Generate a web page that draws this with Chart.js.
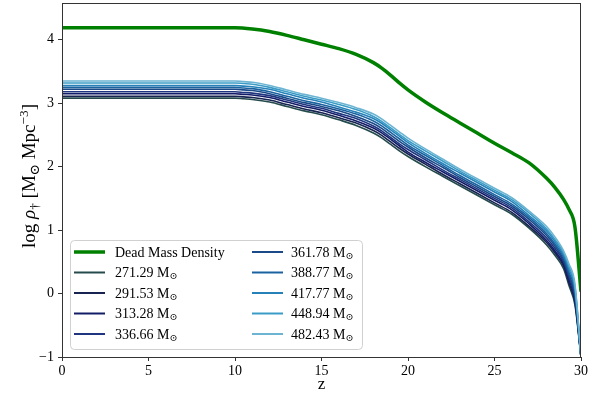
<!DOCTYPE html>
<html>
<head>
<meta charset="utf-8">
<script src="https://cdn.jsdelivr.net/npm/chart.js@4.4.1/dist/chart.umd.min.js"></script>
<style>
  html, body { margin: 0; background: #fff; }
</style>
</head>
<body>
<canvas id="c" width="606" height="398"></canvas>
<script>
/* ── Data ── */
const xTicks = [0, 5, 10, 15, 20, 25, 30];
const yTicks = [-1, 0, 1, 2, 3, 4];

// dead mass density (green)
const zDead   = [0, 10, 11, 12, 13, 14, 15, 16, 17, 18, 18.5, 19, 19.5, 20, 21, 22, 23, 24, 25, 26, 27, 28, 28.5, 29, 29.3, 29.65, 30];
const rhoDead = [4.19, 4.19, 4.17, 4.13, 4.07, 4.00, 3.93, 3.86, 3.77, 3.64, 3.55, 3.44, 3.32, 3.21, 3.02, 2.85, 2.69, 2.53, 2.37, 2.22, 2.06, 1.82, 1.67, 1.48, 1.33, 1.05, 0.03];

// blue family, one curve per halo mass
const zMass = [0, 10, 10.5, 11, 12, 13, 14, 15, 16, 17, 18, 18.5, 19, 19.5, 20, 21, 22, 23, 24, 25, 26, 27, 28, 28.5, 29, 29.3, 29.65, 30];
const rho_271 = [3.08, 3.08, 3.07, 3.06, 3.02, 2.95, 2.88, 2.82, 2.74, 2.65, 2.53, 2.45, 2.35, 2.25, 2.16, 2.00, 1.85, 1.70, 1.55, 1.40, 1.25, 1.03, 0.77, 0.60, 0.39, 0.13, -0.18, -1];
const rho_292 = [3.11, 3.11, 3.10, 3.09, 3.05, 2.98, 2.91, 2.85, 2.77, 2.69, 2.57, 2.49, 2.39, 2.29, 2.20, 2.04, 1.88, 1.73, 1.58, 1.43, 1.28, 1.06, 0.81, 0.64, 0.43, 0.17, -0.14, -1];
const rho_313 = [3.15, 3.15, 3.14, 3.13, 3.09, 3.02, 2.95, 2.89, 2.81, 2.72, 2.61, 2.53, 2.43, 2.33, 2.23, 2.07, 1.92, 1.77, 1.62, 1.47, 1.32, 1.10, 0.84, 0.67, 0.46, 0.22, -0.10, -1];
const rho_337 = [3.18, 3.18, 3.17, 3.16, 3.12, 3.05, 2.98, 2.92, 2.84, 2.76, 2.64, 2.56, 2.46, 2.36, 2.27, 2.11, 1.95, 1.80, 1.65, 1.50, 1.35, 1.13, 0.88, 0.71, 0.50, 0.26, -0.06, -1];
const rho_362 = [3.22, 3.22, 3.21, 3.20, 3.15, 3.08, 3.01, 2.95, 2.88, 2.79, 2.68, 2.60, 2.50, 2.40, 2.31, 2.14, 1.99, 1.83, 1.68, 1.53, 1.38, 1.17, 0.92, 0.75, 0.53, 0.30, -0.02, -1];
const rho_389 = [3.25, 3.25, 3.24, 3.23, 3.18, 3.11, 3.04, 2.98, 2.91, 2.83, 2.72, 2.64, 2.54, 2.44, 2.34, 2.18, 2.02, 1.86, 1.71, 1.56, 1.41, 1.20, 0.95, 0.78, 0.57, 0.34, 0.03, -1];
const rho_418 = [3.28, 3.28, 3.27, 3.26, 3.22, 3.15, 3.08, 3.02, 2.94, 2.86, 2.76, 2.68, 2.58, 2.48, 2.38, 2.21, 2.05, 1.90, 1.75, 1.60, 1.45, 1.23, 0.99, 0.82, 0.60, 0.39, 0.07, -1];
const rho_449 = [3.32, 3.32, 3.31, 3.30, 3.25, 3.18, 3.11, 3.05, 2.98, 2.90, 2.79, 2.71, 2.61, 2.51, 2.41, 2.25, 2.09, 1.93, 1.78, 1.63, 1.48, 1.27, 1.02, 0.85, 0.64, 0.43, 0.11, -1];
const rho_482 = [3.35, 3.35, 3.34, 3.33, 3.28, 3.21, 3.14, 3.08, 3.01, 2.93, 2.83, 2.75, 2.65, 2.55, 2.45, 2.28, 2.12, 1.96, 1.81, 1.66, 1.51, 1.30, 1.06, 0.89, 0.67, 0.47, 0.15, -1];

const massLabels = ['271.29', '291.53', '313.28', '336.66', '361.78', '388.77', '417.77', '448.94', '482.43'];
const massSeries = [rho_271, rho_292, rho_313, rho_337, rho_362, rho_389, rho_418, rho_449, rho_482];
const massColors = ['#254b4c', '#172452', '#131c67', '#1f3580', '#1a4a88', '#1b63a0', '#2581b8', '#3a9cc6', '#6cb4d2'];
const DEAD_COLOR = '#008000';

/* ── Shared styling ── */
const SERIF = "'Liberation Serif', 'DejaVu Serif', serif";
const TICK_FONT = { family: SERIF, size: 14 };

const toPts = (xs, ys) => xs.map((x, i) => ({ x, y: ys[i] }));
const minus = v => String(v).replace('-', '\u2212');

/* draw a run of text pieces with sub/superscripts, returns width */
function drawRich(ctx, parts, x, y, size, measureOnly) {
  let cx = x;
  parts.forEach(p => {
    const s = p.m === 'sub' || p.m === 'sup' ? size * 0.7 : size;
    const dy = p.m === 'sub' ? size * 0.22 : p.m === 'sup' ? -size * 0.38 : 0;
    ctx.font = (p.it ? 'italic ' : '') + s + 'px ' + SERIF;
    if (!measureOnly) ctx.fillText(p.t, cx, y + dy);
    cx += ctx.measureText(p.t).width;
  });
  return cx - x;
}

/* frame, legend and axis titles */
const decor = {
  id: 'decor',
  afterDatasetsDraw(chart) {
    const { ctx, chartArea: a } = chart;
    ctx.save();
    ctx.strokeStyle = '#333';
    ctx.lineWidth = 1;
    ctx.strokeRect(a.left + 0.5, a.top + 0.5, a.right - a.left - 1, a.bottom - a.top);

    // legend box
    const bx = 70, by = 240, bw = 292, bh = 109, r = 4;
    ctx.beginPath();
    ctx.roundRect(bx + 0.5, by + 0.5, bw, bh, r);
    ctx.fillStyle = 'rgba(255,255,255,0.8)';
    ctx.fill();
    ctx.strokeStyle = '#d0d0d0';
    ctx.stroke();

    const entries = [{ label: 'Dead Mass Density', color: DEAD_COLOR, w: 3.5, sun: false }]
      .concat(massLabels.map((m, i) => ({ label: m + ' M', color: massColors[i], w: 2, sun: true })));
    const rowY = [252, 272.5, 293, 313.5, 334];
    ctx.textBaseline = 'middle';
    entries.forEach((e, i) => {
      const col = i < 5 ? 0 : 1;
      const y = rowY[i % 5];
      const hx = col ? 252 : 74;
      const tx = col ? 291 : 115;
      ctx.beginPath();
      ctx.strokeStyle = e.color;
      ctx.lineWidth = e.w;
      ctx.moveTo(hx, y);
      ctx.lineTo(hx + 31, y);
      ctx.stroke();
      ctx.fillStyle = '#000';
      const parts = [{ t: e.label }];
      if (e.sun) parts.push({ t: '\u2299', m: 'sub' });
      drawRich(ctx, parts, tx, y + 1, 14);
    });

    // x title
    ctx.textBaseline = 'alphabetic';
    ctx.font = '17px ' + SERIF;
    const zw = ctx.measureText('z').width;
    ctx.fillText('z', (a.left + a.right) / 2 - zw / 2, 389);

    // y title, rotated
    const yParts = [
      { t: 'log ' }, { t: '\u03c1', it: true }, { t: '\u2020', m: 'sub' },
      { t: ' [M' }, { t: '\u2299', m: 'sub' }, { t: ' Mpc' }, { t: '\u22123', m: 'sup' }, { t: ']' }
    ];
    const size = 19;
    const w = drawRich(ctx, yParts, 0, 0, size, true);
    ctx.translate(35, 176);
    ctx.rotate(-Math.PI / 2);
    drawRich(ctx, yParts, -w / 2, 0, size);
    ctx.restore();
  }
};

/* ── Datasets ── */
const datasets = [{
  data: toPts(zDead, rhoDead),
  borderColor: DEAD_COLOR,
  borderWidth: 3.5,
  cubicInterpolationMode: 'monotone',
  order: 50,
}].concat(massSeries.map((s, i) => ({
  data: toPts(zMass, s),
  borderColor: massColors[i],
  borderWidth: 1.6,
  cubicInterpolationMode: 'monotone',
  order: 40 - i,
})));

const noPad = s => { s.paddingTop = 0; s.paddingBottom = 0; s.paddingLeft = 0; s.paddingRight = 0; };

new Chart(document.getElementById('c'), {
  type: 'line',
  data: { datasets },
  options: {
    responsive: false,
    animation: false,
    layout: { padding: { top: 3, right: 25, left: 0, bottom: 0 } },
    elements: { point: { radius: 0 } },
    plugins: { legend: { display: false }, tooltip: { enabled: false } },
    scales: {
      x: {
        type: 'linear', min: 0, max: 30,
        afterBuildTicks: s => { s.ticks = xTicks.map(v => ({ value: v })); },
        afterFit: s => { s.height = 41; noPad(s); },
        grid: { drawOnChartArea: false, tickLength: 4, color: '#333' },
        border: { display: false },
        ticks: { color: '#000', font: TICK_FONT, padding: 2, maxRotation: 0 },
      },
      y: {
        type: 'linear', min: -1, max: 4.58,
        afterBuildTicks: s => { s.ticks = yTicks.map(v => ({ value: v })); },
        afterFit: s => { s.width = 62; noPad(s); },
        grid: { drawOnChartArea: false, tickLength: 4, color: '#333' },
        border: { display: false },
        ticks: { color: '#000', font: TICK_FONT, padding: 4, callback: v => minus(v) },
      },
    },
  },
  plugins: [decor],
});
</script>
</body>
</html>
